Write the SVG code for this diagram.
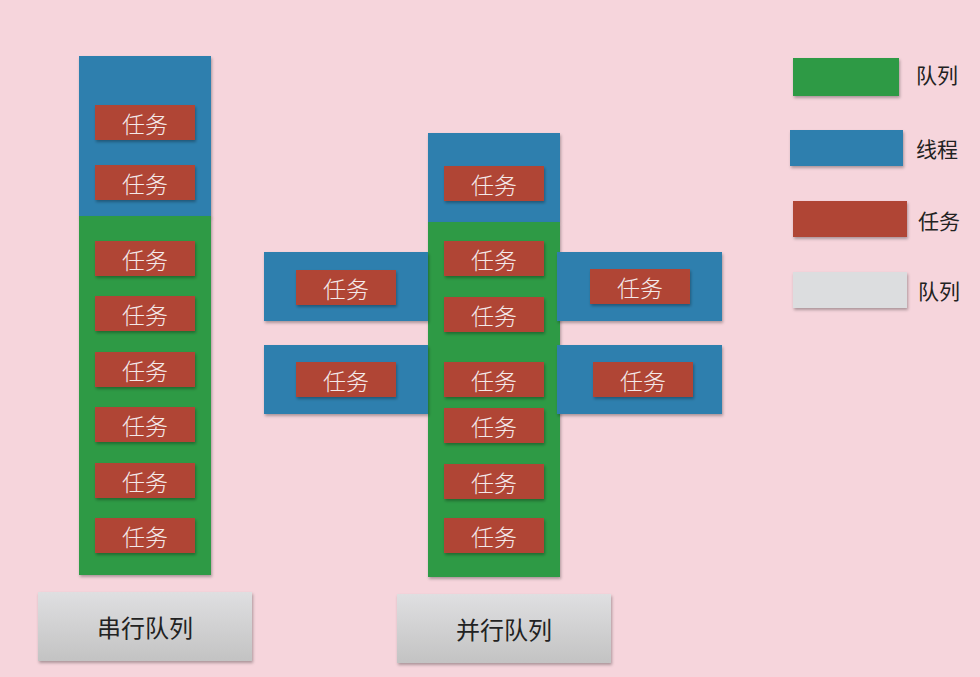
<svg xmlns="http://www.w3.org/2000/svg" width="980" height="677" viewBox="0 0 980 677">
<defs>
<filter id="sh" x="-10%" y="-10%" width="130%" height="140%">
<feDropShadow dx="1" dy="2" stdDeviation="1.5" flood-color="#000" flood-opacity="0.3"/>
</filter>
<linearGradient id="gray" x1="0" y1="0" x2="0" y2="1">
<stop offset="0" stop-color="#dfdfe1"/>
<stop offset="1" stop-color="#c3c3c3"/>
</linearGradient>
</defs>
<style>
.q{fill:#2f9a45;filter:url(#sh)}
.t{fill:#2f7fae;filter:url(#sh)}
.k{fill:#b04436;filter:url(#sh)}
.g{fill:url(#gray);filter:url(#sh)}
.lg{fill:#dcdddf;filter:url(#sh)}
.kt{font-family:"Noto Sans CJK SC",sans-serif;font-size:23px;font-weight:300;fill:#f4e8e8;text-anchor:middle;dominant-baseline:central}
.bt{font-family:"Noto Sans CJK SC",sans-serif;font-size:24px;fill:#222;text-anchor:middle;dominant-baseline:central}
.lt{font-family:"Noto Sans CJK SC",sans-serif;font-size:21px;fill:#222;dominant-baseline:central}
</style>
<rect width="980" height="677" fill="#f6d5dc"/>
<g id="serial-thread"><rect class="t" x="79" y="56" width="132" height="161"/></g>
<g id="serial-queue"><rect class="q" x="79" y="216" width="132" height="359"/></g>
<g id="s-task1"><rect class="k" x="95" y="105" width="100" height="35"/><text class="kt" x="145" y="123">任务</text></g>
<g id="s-task2"><rect class="k" x="95" y="165" width="100" height="35"/><text class="kt" x="145" y="183">任务</text></g>
<g id="s-task3"><rect class="k" x="95" y="241" width="100" height="35"/><text class="kt" x="145" y="259">任务</text></g>
<g id="s-task4"><rect class="k" x="95" y="296" width="100" height="35"/><text class="kt" x="145" y="314">任务</text></g>
<g id="s-task5"><rect class="k" x="95" y="352" width="100" height="35"/><text class="kt" x="145" y="370">任务</text></g>
<g id="s-task6"><rect class="k" x="95" y="407" width="100" height="35"/><text class="kt" x="145" y="425">任务</text></g>
<g id="s-task7"><rect class="k" x="95" y="463" width="100" height="35"/><text class="kt" x="145" y="481">任务</text></g>
<g id="s-task8"><rect class="k" x="95" y="518" width="100" height="35"/><text class="kt" x="145" y="536">任务</text></g>
<g id="serial-label"><rect class="g" x="38" y="592" width="214" height="69"/><text class="bt" x="145" y="626">串行队列</text></g>

<g id="p-thread-top"><rect class="t" x="428" y="133" width="132" height="89"/></g>
<g id="parallel-queue"><rect class="q" x="428" y="222" width="132" height="355"/></g>
<g id="p-thread-l1"><rect class="t" x="264" y="252" width="164" height="69"/></g>
<g id="p-thread-l2"><rect class="t" x="264" y="345" width="164" height="69"/></g>
<g id="p-thread-r1"><rect class="t" x="557" y="252" width="165" height="69"/></g>
<g id="p-thread-r2"><rect class="t" x="557" y="345" width="165" height="69"/></g>
<g id="p-task1"><rect class="k" x="444" y="166" width="100" height="35"/><text class="kt" x="494" y="184">任务</text></g>
<g id="p-task2"><rect class="k" x="444" y="241" width="100" height="35"/><text class="kt" x="494" y="259">任务</text></g>
<g id="p-task3"><rect class="k" x="444" y="297" width="100" height="35"/><text class="kt" x="494" y="315">任务</text></g>
<g id="p-task4"><rect class="k" x="444" y="362" width="100" height="35"/><text class="kt" x="494" y="380">任务</text></g>
<g id="p-task5"><rect class="k" x="444" y="408" width="100" height="35"/><text class="kt" x="494" y="426">任务</text></g>
<g id="p-task6"><rect class="k" x="444" y="464" width="100" height="35"/><text class="kt" x="494" y="482">任务</text></g>
<g id="p-task7"><rect class="k" x="444" y="518" width="100" height="35"/><text class="kt" x="494" y="536">任务</text></g>
<g id="p-task-l1"><rect class="k" x="296" y="270" width="100" height="35"/><text class="kt" x="346" y="288">任务</text></g>
<g id="p-task-l2"><rect class="k" x="296" y="362" width="100" height="35"/><text class="kt" x="346" y="380">任务</text></g>
<g id="p-task-r1"><rect class="k" x="590" y="269" width="100" height="35"/><text class="kt" x="640" y="287">任务</text></g>
<g id="p-task-r2"><rect class="k" x="593" y="362" width="100" height="35"/><text class="kt" x="643" y="380">任务</text></g>
<g id="parallel-label"><rect class="g" x="397" y="594" width="214" height="69"/><text class="bt" x="504" y="628">并行队列</text></g>

<g id="legend-queue"><rect class="q" x="793" y="58" width="106" height="38"/><text class="lt" x="916" y="74">队列</text></g>
<g id="legend-thread"><rect class="t" x="790" y="130" width="113" height="36"/><text class="lt" x="916" y="148">线程</text></g>
<g id="legend-task"><rect class="k" x="793" y="201" width="114" height="36"/><text class="lt" x="918" y="220">任务</text></g>
<g id="legend-label"><rect class="lg" x="793" y="272" width="114" height="36"/><text class="lt" x="918" y="290">队列</text></g>
<g id="connectors"/>
</svg>
